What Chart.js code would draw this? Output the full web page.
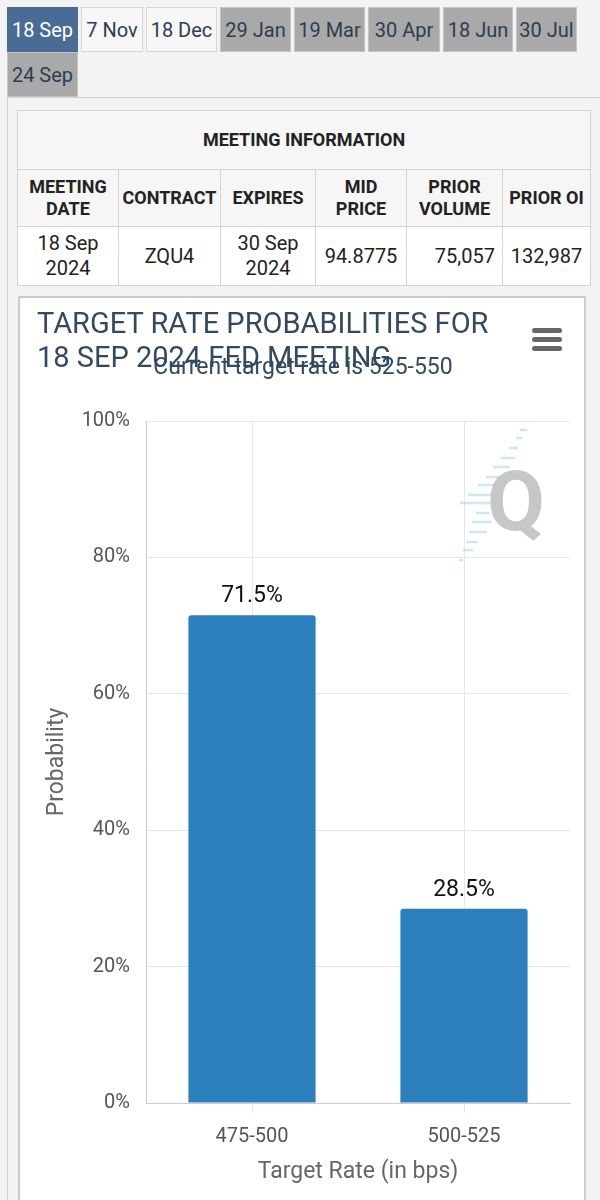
<!DOCTYPE html>
<html>
<head>
<meta charset="utf-8">
<script src="https://cdn.jsdelivr.net/npm/chart.js@4.4.1/dist/chart.umd.min.js"></script>
<style>
  html, body { margin: 0; padding: 0; }
  body {
    width: 600px; height: 1200px; overflow: hidden; position: relative;
    background: #f3f3f3; font-family: Roboto, "Noto Sans", sans-serif; color: #2c3e50;
  }
  .tab {
    position: absolute; height: 45px; line-height: 45px; text-align: center;
    font-size: 20px; box-sizing: border-box; border: 1px solid #d6d6d6; color: #2c3e50;
  }
  .tab.sel { background: #4a6b93; color: #fff; border-color: #4a6b93; }
  .tab.on { background: #f7f7f7; }
  .tab.off { background: #a9a9a9; border-color: #c4c4c4; }
  .panel {
    position: absolute; left: 7px; top: 97px; width: 600px; height: 1110px;
    border-left: 1px solid #d0d0d0; border-top: 1px solid #d0d0d0;
  }
  table.info {
    position: absolute; left: 17px; top: 110px; width: 573px;
    border-collapse: collapse; color: #222; table-layout: fixed;
  }
  table.info td, table.info th { border: 1px solid #d4d4d4; padding: 0 3px; text-align: center; }
  table.info th { font-size: 18px; font-weight: bold; background: #f6f6f6; line-height: 22px; }
  table.info tr.title th { height: 58px; }
  table.info tr.head th { height: 56px; }
  table.info td { background: #fff; font-size: 20px; height: 58px; line-height: 25px; }
  table.info td.r { text-align: right; padding-right: 7px; }
  .chartbox {
    position: absolute; left: 18px; top: 296px; width: 568px; height: 930px;
    background: #fff; border: 2px solid #cccccc; box-sizing: border-box;
  }
  .ctitle {
    position: absolute; left: 37px; top: 306px; font-size: 29px; line-height: 34px; color: #34495e;
  }
  .csub {
    position: absolute; left: 103px; width: 400px; top: 353px; text-align: center;
    font-size: 23px; color: #34495e;
  }
  .menu { position: absolute; left: 532px; width: 30px; height: 5px; background: #666; border-radius: 3px; }
  #wrap { position: absolute; left: 19px; top: 297px; width: 566px; height: 903px; }
</style>
</head>
<body>
<div class="panel"></div>
<div class="tab sel" style="left:7px;top:7px;width:71px">18 Sep</div>
<div class="tab on" style="left:81px;top:7px;width:62px">7 Nov</div>
<div class="tab on" style="left:146px;top:7px;width:71px">18 Dec</div>
<div class="tab off" style="left:220px;top:7px;width:71px">29 Jan</div>
<div class="tab off" style="left:294px;top:7px;width:71px">19 Mar</div>
<div class="tab off" style="left:368px;top:7px;width:72px">30 Apr</div>
<div class="tab off" style="left:443px;top:7px;width:70px">18 Jun</div>
<div class="tab off" style="left:516px;top:7px;width:61px">30 Jul</div>
<div class="tab off" style="left:7px;top:52px;width:71px">24 Sep</div>

<table class="info">
  <colgroup>
    <col style="width:101px"><col style="width:102px"><col style="width:95px">
    <col style="width:91px"><col style="width:96px"><col style="width:88px">
  </colgroup>
  <tr class="title"><th colspan="6">MEETING INFORMATION</th></tr>
  <tr class="head">
    <th>MEETING DATE</th><th>CONTRACT</th><th>EXPIRES</th><th>MID PRICE</th><th>PRIOR VOLUME</th><th>PRIOR OI</th>
  </tr>
  <tr>
    <td>18 Sep 2024</td><td>ZQU4</td><td>30 Sep 2024</td><td>94.8775</td><td class="r">75,057</td><td>132,987</td>
  </tr>
</table>

<div class="chartbox"></div>
<div id="wrap"><canvas id="probChart"></canvas></div>
<div class="ctitle">TARGET RATE PROBABILITIES FOR<br>18 SEP 2024 FED MEETING</div>
<div class="csub">Current target rate is 525-550</div>
<div class="menu" style="top:328px"></div>
<div class="menu" style="top:337px"></div>
<div class="menu" style="top:346px"></div>

<script>
const categories = ['475-500', '500-525'];
const probabilities = [71.5, 28.5];
const yTickValues = [0, 20, 40, 60, 80, 100];

// faint "Q" logo behind the bars
const watermark = {
    id: 'watermark',
    beforeDatasetsDraw(chart) {
        const ctx = chart.ctx;
        ctx.save();
        ctx.strokeStyle = 'rgba(150, 210, 240, 0.5)';
        ctx.lineWidth = 2.5;
        const dashes = [
            [430, 520, 527], [438, 516, 522], [448, 509, 518], [458, 501, 515], [467, 493, 510],
            [477, 486, 500], [485, 478, 495], [495, 468, 492], [503, 460, 490], [513, 476, 490],
            [522, 472, 492], [532, 469, 487], [542, 466, 478], [550, 463, 473], [560, 459, 463]
        ];
        dashes.forEach(([y, x1, x2]) => {
            ctx.beginPath();
            ctx.moveTo(x1 - 19, y - 297);
            ctx.lineTo(x2 - 19, y - 297);
            ctx.stroke();
        });
        ctx.fillStyle = 'rgba(175, 175, 175, 0.7)';
        ctx.font = 'bold 84px Roboto';
        ctx.textAlign = 'center';
        ctx.textBaseline = 'alphabetic';
        ctx.fillText('Q', 516 - 19, 530 - 297);
        ctx.restore();
    }
};

// percentage labels on top of the bars
const barLabels = {
    id: 'barLabels',
    afterDatasetsDraw(chart) {
        const ctx = chart.ctx;
        const meta = chart.getDatasetMeta(0);
        ctx.save();
        ctx.fillStyle = '#111';
        ctx.font = '23px Roboto';
        ctx.textAlign = 'center';
        ctx.textBaseline = 'alphabetic';
        meta.data.forEach((bar, i) => {
            ctx.fillText(probabilities[i].toFixed(1) + '%', bar.x, bar.y - 13);
        });
        ctx.restore();
    }
};

const ctx = document.getElementById('probChart').getContext('2d');
new Chart(ctx, {
    type: 'bar',
    data: {
        labels: categories,
        datasets: [{
            data: probabilities,
            backgroundColor: '#2b7fba',
            borderRadius: { topLeft: 3, topRight: 3 },
            borderSkipped: 'bottom',
            barPercentage: 0.6,
            categoryPercentage: 1.0
        }]
    },
    options: {
        responsive: true,
        maintainAspectRatio: false,
        animation: false,
        layout: { padding: { top: 124, right: 15, left: 0, bottom: 0 } },
        plugins: {
            legend: { display: false },
            tooltip: { enabled: false }
        },
        scales: {
            x: {
                afterFit: s => { s.height = 97; },
                grid: { color: '#e6e6e6', offset: false, drawTicks: true, tickLength: 10 },
                border: { color: '#cccccc' },
                ticks: { color: '#555', font: { family: 'Roboto', size: 20 }, padding: 12 },
                title: {
                    display: true, text: 'Target Rate (in bps)', color: '#666',
                    font: { family: 'Roboto', size: 23 }, padding: { top: 0, bottom: 14 }
                }
            },
            y: {
                min: 0, max: 100,
                afterFit: s => { s.width = 127; },
                afterBuildTicks: s => { s.ticks = yTickValues.map(v => ({ value: v })); },
                grid: { color: '#e6e6e6', drawTicks: false },
                border: { color: '#cccccc' },
                ticks: {
                    color: '#555', font: { family: 'Roboto', size: 20 }, padding: 16,
                    callback: v => v + '%'
                },
                title: {
                    display: true, text: 'Probability', color: '#666',
                    font: { family: 'Roboto', size: 23 }, padding: { top: 24, bottom: 0 }
                }
            }
        }
    },
    plugins: [watermark, barLabels]
});
</script>
</body>
</html>
